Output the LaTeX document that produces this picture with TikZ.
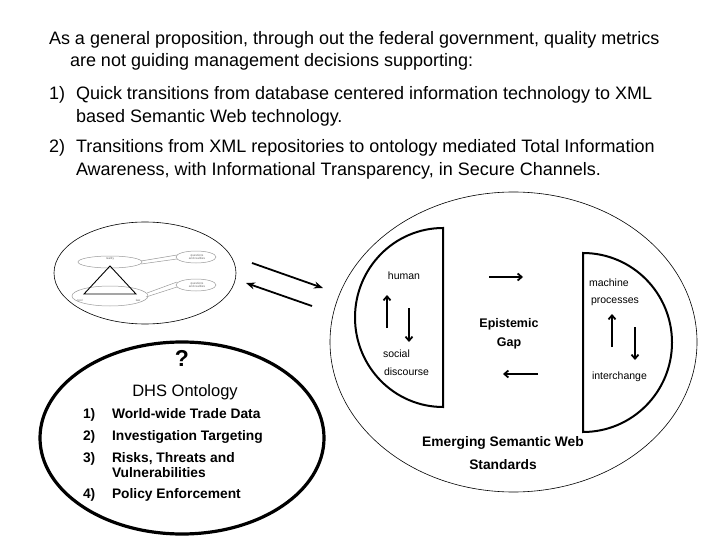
\documentclass[tikz,border=0pt]{standalone}
\usepackage{fontspec}
\setmainfont{Liberation Sans}
\usetikzlibrary{arrows.meta, positioning, shapes}

\begin{document}
\begin{tikzpicture}[
    x=1pt, y=-1pt,
    every node/.style={inner sep=0pt, outer sep=0pt},
    headline/.style={anchor=base west, font=\fontsize{18}{21}\selectfont},
    listline/.style={anchor=base west, font=\fontsize{13.8}{16}\selectfont\bfseries},
    smalllabel/.style={anchor=west, font=\fontsize{10.5}{12}\selectfont},
    boldlabel/.style={font=\fontsize{12.5}{15}\selectfont\bfseries},
    halfdisc/.style={draw, line width=2pt},
    loopline/.style={-{Straight Barb[length=4pt, width=7pt]}, line width=1.8pt},
    crossarrow/.style={-{Stealth[length=9pt, width=7pt]}, line width=1.8pt},
    thumb/.style={draw=black!40, line width=0.5pt},
    thumbtext/.style={font=\fontsize{3}{3.5}\selectfont, text=black!60, align=center}
]
\useasboundingbox (0,0) rectangle (720,540);

% heading text
\node[headline] (intro1) at (49,45) {As a general proposition, through out the federal government, quality metrics};
\node[headline] (intro2) at (70,67) {are not guiding management decisions supporting:};
\node[headline] (num1) at (49,100) {1)};
\node[headline] (item1a) at (76,100) {Quick transitions from database centered information technology to XML};
\node[headline] (item1b) at (76,123) {based Semantic Web technology.};
\node[headline] (num2) at (49,153) {2)};
\node[headline] (item2a) at (76,153) {Transitions from XML repositories to ontology mediated Total Information};
\node[headline] (item2b) at (76,176) {Awareness, with Informational Transparency, in Secure Channels.};

% thumbnail ellipse
\draw[line width=0.6pt] (145,273) ellipse [x radius=91, y radius=51];
\draw[thumb] (110,262) ellipse [x radius=32, y radius=6];
\draw[thumb] (110,296) ellipse [x radius=38, y radius=10];
\draw[thumb] (196,257) ellipse [x radius=20, y radius=6];
\draw[thumb] (196,285) ellipse [x radius=20, y radius=6];
\draw[thumb] (141,261) -- (177,255);
\draw[thumb] (141,264) -- (177,259);
\draw[thumb] (147,293) -- (177,282);
\draw[thumb] (146,297) -- (177,287);
\draw[line width=0.9pt] (110,266) -- (84,294) -- (136,294) -- cycle;
\node[thumbtext] (reality) at (110,259) {reality};
\node[thumbtext] (tool) at (80,300) {tool};
\node[thumbtext] (law) at (138,300) {law};
\node[thumbtext] (quest1) at (197,257) {questions\\and realities};
\node[thumbtext] (quest2) at (197,285) {questions\\and realities};

% arrows between the two views
\coordinate (fwd0) at (252,263);
\coordinate (fwd1) at (323,288);
\coordinate (back0) at (312,306);
\coordinate (back1) at (246,283);
\draw[crossarrow] (fwd0) -- (fwd1);
\draw[crossarrow] (back0) -- (back1);

% DHS ontology
\draw[line width=3.2pt] (182,438) ellipse [x radius=142, y radius=96];
\node[font=\fontsize{23}{25}\selectfont\bfseries] (quest) at (182,358) {?};
\node[font=\fontsize{16.5}{19}\selectfont] (dhs) at (185,392) {DHS Ontology};
\node[listline] (l1n) at (83,418) {1)};
\node[listline] (l1) at (112,418) {World-wide Trade Data};
\node[listline] (l2n) at (83,440) {2)};
\node[listline] (l2) at (112,440) {Investigation Targeting};
\node[listline] (l3n) at (83,462) {3)};
\node[listline] (l3) at (112,462) {Risks, Threats and};
\node[listline] (l3b) at (112,477) {Vulnerabilities};
\node[listline] (l4n) at (83,498) {4)};
\node[listline] (l4) at (112,498) {Policy Enforcement};

% semantic web
\draw[line width=0.6pt] (513.5,342) ellipse [x radius=183.5, y radius=150];
\draw[halfdisc] (443,228) arc[start angle=270, end angle=90, x radius=88, y radius=89.5] -- cycle;
\draw[halfdisc] (583,253) arc[start angle=-90, end angle=90, x radius=89, y radius=89.5] -- cycle;

\node[font=\fontsize{10.5}{12}\selectfont] (human) at (404,276) {human};
\node[smalllabel] (social) at (383,354) {social};
\node[smalllabel] (discourse) at (384,372) {discourse};
\coordinate (hup0) at (387,328);
\coordinate (hup1) at (387,295);
\coordinate (hdn0) at (409,308);
\coordinate (hdn1) at (409,342);
\draw[loopline] (hup0) -- (hup1);
\draw[loopline] (hdn0) -- (hdn1);

\node[smalllabel] (machine) at (589,283) {machine};
\node[smalllabel] (processes) at (591,302) {processes};
\node[smalllabel] (interchange) at (592,377) {interchange};
\coordinate (mup0) at (612,347);
\coordinate (mup1) at (612,314);
\coordinate (mdn0) at (635,327);
\coordinate (mdn1) at (635,360);
\draw[loopline] (mup0) -- (mup1);
\draw[loopline] (mdn0) -- (mdn1);

\node[boldlabel] (epistemic) at (509,324) {Epistemic};
\node[boldlabel] (gap) at (509,343) {Gap};
\coordinate (gapr0) at (489,277);
\coordinate (gapr1) at (523,277);
\coordinate (gapl0) at (538,374);
\coordinate (gapl1) at (503,374);
\draw[loopline] (gapr0) -- (gapr1);
\draw[loopline] (gapl0) -- (gapl1);

\node[boldlabel, font=\fontsize{13.8}{16}\selectfont\bfseries] (emerging) at (503,443) {Emerging Semantic Web};
\node[boldlabel, font=\fontsize{13.8}{16}\selectfont\bfseries] (standards) at (503,465) {Standards};
\end{tikzpicture}
\end{document}
